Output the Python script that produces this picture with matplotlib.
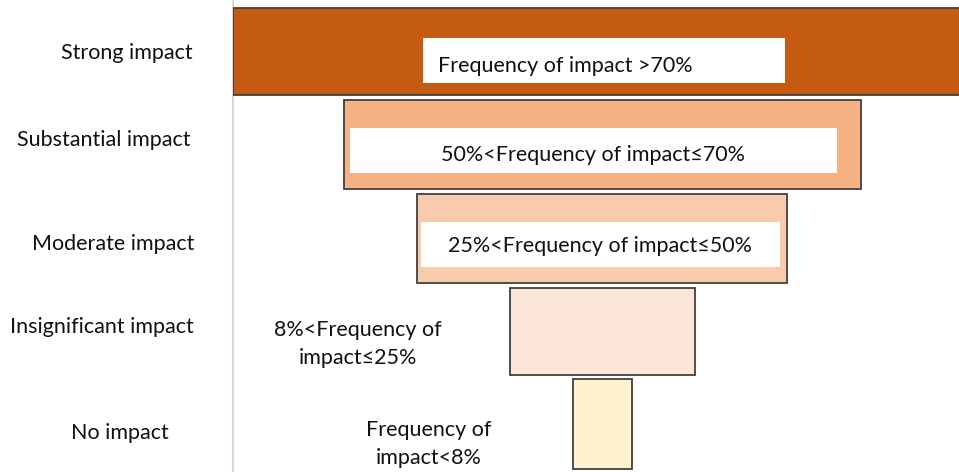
import matplotlib
matplotlib.use("Agg")
import matplotlib.pyplot as plt
from matplotlib.patches import Rectangle

plt.rcParams['font.family'] = ['Lato', 'DejaVu Sans']

levels = ['Strong impact', 'Substantial impact', 'Moderate impact',
          'Insignificant impact', 'No impact']
widths = [738, 517, 370, 185, 59]
bar_texts = ['Frequency of impact >70%', '50%<Frequency of impact≤70%',
             '25%<Frequency of impact≤50%', '8%<Frequency of\nimpact≤25%',
             'Frequency of\nimpact<8%']
colors = ['#C55A11', '#F4B183', '#F8CBAD', '#FBE5D6', '#FFF2CC']

# layout bits (pixels -> data)
label_x = [127, 104, 113, 102, 120]
label_y = [53, 140, 244, 327, 433]
bar_y = [8, 100, 194, 288, 379]
bar_h = [87, 89, 89, 87, 90]
box_w = [362, 487, 359]
box_x = [423, 350, 421]
box_y = [38, 128, 222]
box_txt_x = [565, 593, 600]
box_txt_y = [66, 155, 246]
out_txt_x = [358, 429]
out_txt_y = [344, 444]

FS = 15.5
W, H = 959, 472
fig = plt.figure(figsize=(W / 100, H / 100), dpi=100)
ax = fig.add_axes([233 / W, 0, 1 - 233 / W, 1])
cx = 602
ax.set_xlim(233 - cx, W - cx)
ax.set_ylim(H, 0)

for i in range(len(levels)):
    ax.barh(bar_y[i] + bar_h[i] / 2, widths[i], height=bar_h[i],
            left=-widths[i] / 2, color=colors[i], edgecolor='#404040',
            linewidth=1.3, zorder=2)

for i in range(3):
    ax.add_patch(Rectangle((box_x[i] - cx, box_y[i]), box_w[i], 45,
                           facecolor='white', edgecolor='none', zorder=3))
    ax.text(box_txt_x[i] - cx, box_txt_y[i], bar_texts[i],
            ha='center', va='center', fontsize=FS, color='#111111', zorder=4)

for j in range(2):
    ax.text(out_txt_x[j] - cx, out_txt_y[j], bar_texts[3 + j], ha='center',
            va='center', fontsize=FS, color='#111111', linespacing=1.45)

for i, lab in enumerate(levels):
    fig.text(label_x[i] / W, 1 - label_y[i] / H, lab, ha='center',
             va='center', fontsize=FS, color='#111111')

for s in ['top', 'right', 'bottom']:
    ax.spines[s].set_visible(False)
ax.spines['left'].set_color('#D9D9D9')
ax.spines['left'].set_linewidth(1.5)
ax.spines['left'].set_zorder(1)
ax.set_xticks([])
ax.set_yticks([])

fig.savefig('out.png', dpi=100)
